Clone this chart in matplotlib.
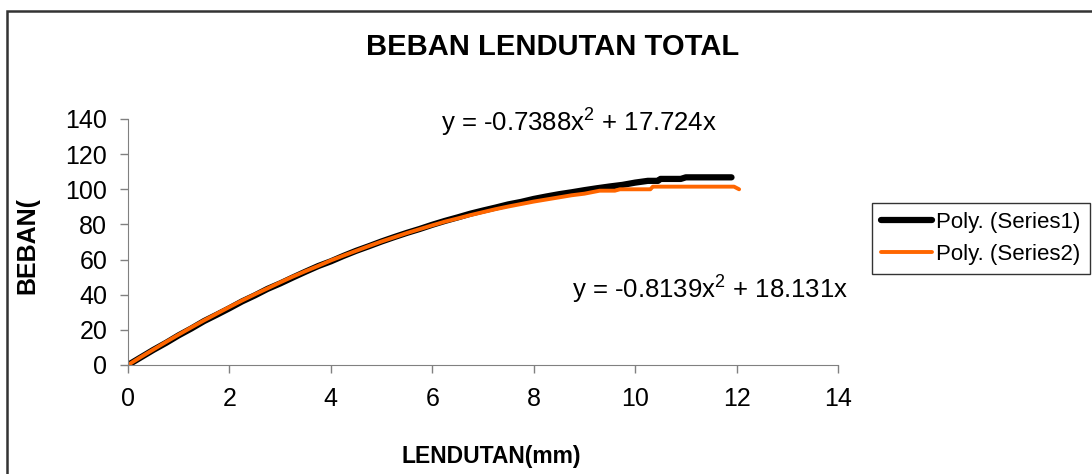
import matplotlib
matplotlib.use("Agg")
import matplotlib.pyplot as plt
from matplotlib.patches import Rectangle

plt.rcParams['font.family'] = ['Liberation Sans', 'DejaVu Sans']
plt.rcParams['mathtext.fontset'] = 'custom'
plt.rcParams['mathtext.rm'] = 'Liberation Sans'

# data (lendutan mm, beban)
x1 = [0, 0.25, 0.5, 0.75, 1.0, 1.25, 1.5, 1.75, 2.0, 2.25, 2.5, 2.75, 3.0, 3.25,
      3.5, 3.75, 4.0, 4.25, 4.5, 4.75, 5.0, 5.25, 5.5, 5.75, 6.0, 6.25, 6.5, 6.75,
      7.0, 7.25, 7.5, 7.75, 8.0, 8.25, 8.5, 8.75, 9.0, 9.25, 9.5, 9.75, 10.0, 10.25,
      10.45, 10.5, 10.75, 10.9, 11.0, 11.25, 11.5, 11.75, 11.9]
y1 = [0, 4.3, 8.6, 12.6, 16.9, 20.8, 25.0, 28.6, 32.3, 36.2, 39.6, 43.3, 46.4, 49.8,
      53.1, 56.3, 59.0, 62.1, 65.0, 67.6, 70.3, 72.8, 75.2, 77.4, 79.8, 82.0, 84.0, 86.1,
      87.9, 89.6, 91.4, 92.8, 94.5, 95.9, 97.2, 98.3, 99.5, 100.6, 101.6, 102.5, 103.8, 104.8,
      104.8, 105.9, 105.9, 105.9, 106.8, 106.8, 106.8, 106.8, 106.8]

x2 = [0, 0.25, 0.5, 0.75, 1.0, 1.25, 1.5, 1.75, 2.0, 2.25, 2.5, 2.75, 3.0, 3.25,
      3.5, 3.75, 4.0, 4.25, 4.5, 4.75, 5.0, 5.25, 5.5, 5.75, 6.0, 6.25, 6.5, 6.75,
      7.0, 7.25, 7.5, 7.75, 8.0, 8.25, 8.5, 8.75, 9.0, 9.3, 9.6, 9.7, 10.0, 10.3,
      10.35, 10.75, 11.0, 11.25, 11.5, 11.75, 11.95, 12.05]
y2 = [0, 4.5, 8.8, 13.1, 17.3, 21.4, 25.4, 29.2, 33.0, 36.7, 40.2, 43.6, 47.0, 50.3,
      53.4, 56.4, 59.5, 62.3, 65.0, 67.7, 70.3, 72.7, 75.1, 77.3, 79.5, 81.6, 83.4, 85.3,
      87.0, 88.7, 90.2, 91.6, 93.0, 94.2, 95.4, 96.6, 97.5, 99.2, 99.2, 100.0, 100.0, 100.0,
      101.5, 101.5, 101.5, 101.5, 101.5, 101.5, 101.5, 100.0]

eq1 = r"y = -0.7388x$^2$ + 17.724x"
eq2 = r"y = -0.8139x$^2$ + 18.131x"

fig = plt.figure(figsize=(10.92, 4.74), dpi=100)
ax = fig.add_axes([128/1092, 1 - 365/474, 710/1092, 246/474])

ax.plot(x1, y1, color='black', lw=4.5, solid_capstyle='round', label='Poly. (Series1)')
ax.plot(x2, y2, color='#ff6600', lw=2.8, solid_capstyle='round', label='Poly. (Series2)')

ax.set_xlim(0, 14)
ax.set_ylim(0, 140)
ax.set_xticks(range(0, 15, 2))
ax.set_yticks(range(0, 141, 20))
ax.tick_params(labelsize=18, color='#808080', length=6, width=1)
ax.tick_params(axis='y', pad=9)
ax.tick_params(axis='x', pad=10)
ax.spines['top'].set_visible(False)
ax.spines['right'].set_visible(False)
ax.spines['left'].set_color('#808080')
ax.spines['bottom'].set_color('#808080')

fig.text(491/1092, 1 - 456/474, 'LENDUTAN(mm)', fontsize=16.5, fontweight='bold',
         ha='center', va='center')
fig.text(27/1092, 1 - 245/474, 'BEBAN(', fontsize=18, fontweight='bold',
         ha='center', va='center', rotation=90)

fig.text(553/1092, 1 - 47/474, 'BEBAN LENDUTAN TOTAL', fontsize=21, fontweight='bold',
         ha='center', va='center')
fig.text(441/1092, 1 - 122/474, eq1, fontsize=18.5, ha='left', va='center')
fig.text(572/1092, 1 - 289/474, eq2, fontsize=18.5, ha='left', va='center')

leg = fig.legend(loc='upper left', bbox_to_anchor=(872/1092, 1 - 203/474), fontsize=16,
                 frameon=True, fancybox=False, edgecolor='black', handlelength=2.3,
                 handletextpad=0.2, borderpad=0.4, labelspacing=0.5, borderaxespad=0)
leg.get_frame().set_linewidth(1)

# outer chart border
fig.patches.append(Rectangle((7/1092, -0.1), 1.2, 1 - 11/474 + 0.1, transform=fig.transFigure,
                             fill=False, edgecolor='#333333', lw=1.8))

fig.savefig('out.png', dpi=100)
